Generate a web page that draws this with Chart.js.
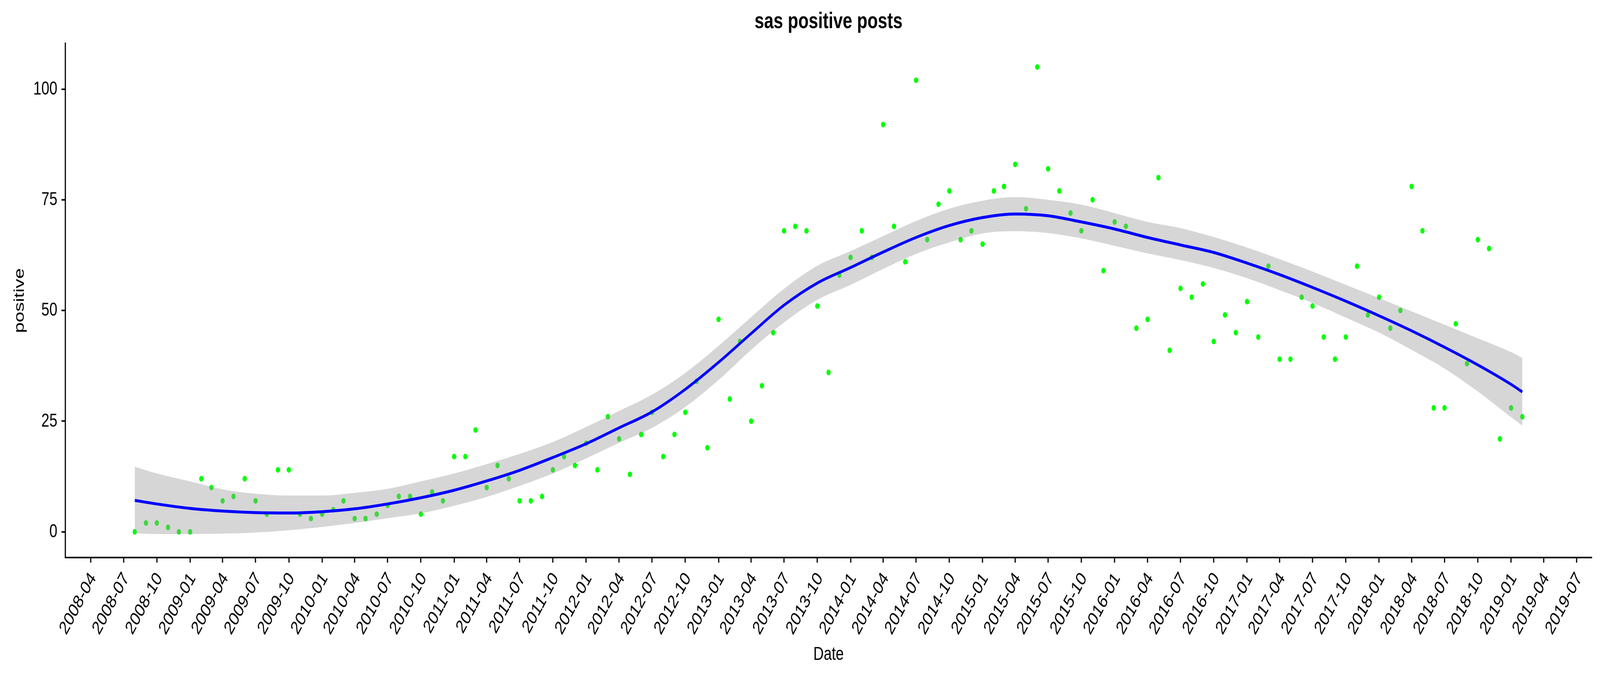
<!DOCTYPE html>
<html>
<head>
<meta charset="utf-8">
<title>sas positive posts</title>
<script src="https://cdn.jsdelivr.net/npm/chart.js@4"></script>
<style>
  html, body { margin: 0; padding: 0; background: #fff; overflow: hidden; }
  canvas { display: block; }
</style>
</head>
<body>
<canvas id="chart" width="5440" height="1743"></canvas>
<script>
"use strict";

var postDates = [
  "2008-08", "2008-09", "2008-10", "2008-11", "2008-12",
  "2009-01", "2009-02", "2009-03", "2009-04", "2009-05", "2009-06", "2009-07", "2009-08", "2009-09", "2009-10", "2009-11", "2009-12",
  "2010-01", "2010-02", "2010-03", "2010-04", "2010-05", "2010-06", "2010-07", "2010-08", "2010-09", "2010-10", "2010-11", "2010-12",
  "2011-01", "2011-02", "2011-03", "2011-04", "2011-05", "2011-06", "2011-07", "2011-08", "2011-09", "2011-10", "2011-11", "2011-12",
  "2012-01", "2012-02", "2012-03", "2012-04", "2012-05", "2012-06", "2012-07", "2012-08", "2012-09", "2012-10", "2012-11", "2012-12",
  "2013-01", "2013-02", "2013-03", "2013-04", "2013-05", "2013-06", "2013-07", "2013-08", "2013-09", "2013-10", "2013-11", "2013-12",
  "2014-01", "2014-02", "2014-03", "2014-04", "2014-05", "2014-06", "2014-07", "2014-08", "2014-09", "2014-10", "2014-11", "2014-12",
  "2015-01", "2015-02", "2015-03", "2015-04", "2015-05", "2015-06", "2015-07", "2015-08", "2015-09", "2015-10", "2015-11", "2015-12",
  "2016-01", "2016-02", "2016-03", "2016-04", "2016-05", "2016-06", "2016-07", "2016-08", "2016-09", "2016-10", "2016-11", "2016-12",
  "2017-01", "2017-02", "2017-03", "2017-04", "2017-05", "2017-06", "2017-07", "2017-08", "2017-09", "2017-10", "2017-11", "2017-12",
  "2018-01", "2018-02", "2018-03", "2018-04", "2018-05", "2018-06", "2018-07", "2018-08", "2018-09", "2018-10", "2018-11", "2018-12",
  "2019-01", "2019-02"
];

var postValues = [
  0, 2, 2, 1, 0,
  0, 12, 10, 7, 8, 12, 7, 4, 14, 14, 4, 3,
  4, 5, 7, 3, 3, 4, 6, 8, 8, 4, 9, 7,
  17, 17, 23, 10, 15, 12, 7, 7, 8, 14, 17, 15,
  20, 14, 26, 21, 13, 22, 27, 17, 22, 27, 34, 19,
  48, 30, 43, 25, 33, 45, 68, 69, 68, 51, 36, 58,
  62, 68, 62, 92, 69, 61, 102, 66, 74, 77, 66, 68,
  65, 77, 78, 83, 73, 105, 82, 77, 72, 68, 75, 59,
  70, 69, 46, 48, 80, 41, 55, 53, 56, 43, 49, 45,
  52, 44, 60, 39, 39, 53, 51, 44, 39, 44, 60, 49,
  53, 46, 50, 78, 68, 28, 28, 47, 38, 66, 64, 21,
  28, 26
];

var smoothDates = [
  "2008-08", "2008-10",
  "2009-01", "2009-04", "2009-07", "2009-10",
  "2010-01", "2010-04", "2010-07", "2010-10",
  "2011-01", "2011-04", "2011-07", "2011-10",
  "2012-01", "2012-04", "2012-07", "2012-10",
  "2013-01", "2013-04", "2013-07", "2013-10",
  "2014-01", "2014-04", "2014-07", "2014-10",
  "2015-01", "2015-04", "2015-07", "2015-10",
  "2016-01", "2016-04", "2016-07", "2016-10",
  "2017-01", "2017-04", "2017-07", "2017-10",
  "2018-01", "2018-04", "2018-07", "2018-10",
  "2019-01", "2019-02"
];

var smoothFit = [
  7.1, 6.3,
  5.3, 4.7, 4.35, 4.25,
  4.55, 5.2, 6.3, 7.7,
  9.4, 11.5, 13.9, 16.8,
  19.9, 23.5, 27.1, 32.2,
  38.3, 44.8, 51.2, 56.2,
  59.7, 63.2, 66.5, 69.2,
  71, 71.8, 71.4, 70,
  68.4, 66.5, 64.8, 63.1,
  60.7, 58.1, 55.2, 52.1,
  48.8, 45.4, 41.7, 37.7,
  33.3, 31.6
];

var smoothUpper = [
  14.7, 13.2,
  11.4, 9.6, 8.6, 8.2,
  8.2, 8.8, 9.7, 11.4,
  13.2, 15.3, 17.6, 20.3,
  23.7, 27.3, 31, 35.9,
  42, 48.5, 54.9, 60.1,
  63.4, 66.8, 70.2, 73,
  74.8, 75.6, 75, 73.9,
  72, 70, 68.6, 66.6,
  64.2, 61.6, 58.8, 55.8,
  52.8, 49.8, 46.8, 43.7,
  40.6, 39.3
];

var smoothLower = [
  -0.3, -0.5,
  -0.5, -0.4, -0.15, 0.35,
  1.1, 2, 3.1, 4.2,
  5.9, 7.9, 10.4, 13.2,
  16.6, 20.1, 23.5, 28.2,
  34.3, 41.1, 47.3, 52.4,
  55.8, 59.4, 62.8, 65.4,
  67.4, 67.9, 67.5, 66.3,
  64.6, 62.9, 61.4, 59.6,
  57.3, 54.6, 51.7, 48.4,
  45, 41.1, 36.9, 31.7,
  25.9, 24
];

var dateTicks = [
  "2008-04", "2008-07", "2008-10",
  "2009-01", "2009-04", "2009-07", "2009-10",
  "2010-01", "2010-04", "2010-07", "2010-10",
  "2011-01", "2011-04", "2011-07", "2011-10",
  "2012-01", "2012-04", "2012-07", "2012-10",
  "2013-01", "2013-04", "2013-07", "2013-10",
  "2014-01", "2014-04", "2014-07", "2014-10",
  "2015-01", "2015-04", "2015-07", "2015-10",
  "2016-01", "2016-04", "2016-07", "2016-10",
  "2017-01", "2017-04", "2017-07", "2017-10",
  "2018-01", "2018-04", "2018-07", "2018-10",
  "2019-01", "2019-04", "2019-07"
];

var positiveTicks = [0, 25, 50, 75, 100];

// "YYYY-MM" (optional "-DD") to days since epoch, the x axis is linear in days
function toDay(text) {
  var parts = text.split("-");
  return Date.UTC(+parts[0], +parts[1] - 1, parts[2] ? +parts[2] : 1) / 86400000;
}

function toPoints(dates, values) {
  return dates.map(function(date, i) {
    return { x: toDay(date), y: values[i] };
  });
}

var FONT = "'Liberation Sans', Arial, sans-serif";

var canvas = document.getElementById("chart");

new Chart(canvas, {
  type: "line",
  data: {
    datasets: [
      {
        label: "fit",
        data: toPoints(smoothDates, smoothFit),
        borderColor: "#0000ff",
        borderWidth: 7.5,
        pointRadius: 0,
        cubicInterpolationMode: "monotone",
        fill: false,
        order: 0
      },
      {
        label: "upper",
        data: toPoints(smoothDates, smoothUpper),
        borderWidth: 0,
        pointRadius: 0,
        cubicInterpolationMode: "monotone",
        backgroundColor: "rgba(153, 153, 153, 0.4)",
        fill: "+1",
        order: 1
      },
      {
        label: "lower",
        data: toPoints(smoothDates, smoothLower),
        borderWidth: 0,
        pointRadius: 0,
        cubicInterpolationMode: "monotone",
        fill: false,
        order: 2
      },
      {
        label: "positive",
        data: toPoints(postDates, postValues),
        showLine: false,
        pointRadius: 7.3,
        pointBorderWidth: 0,
        pointBackgroundColor: "#00ff00",
        order: 3
      }
    ]
  },
  options: {
    responsive: false,
    animation: false,
    devicePixelRatio: 1,
    layout: { padding: { left: 0, right: 28, top: 0, bottom: 0 } },
    plugins: {
      legend: { display: false },
      tooltip: { enabled: false },
      title: {
        display: true,
        text: "sas positive posts",
        fullSize: false,
        color: "#000",
        font: { family: FONT, size: 58, weight: "bold", lineHeight: 1.2 },
        padding: { top: 21, bottom: 20.8 }
      }
    },
    scales: {
      x: {
        type: "linear",
        min: toDay("2008-01-22"),
        max: toDay("2019-08-12"),
        afterBuildTicks: function(scale) {
          scale.ticks = dateTicks.map(function(d) { return { value: toDay(d) }; });
        },
        afterFit: function(scale) { scale.height = 316; },
        border: { display: true, color: "#000", width: 4 },
        grid: { display: true, drawOnChartArea: false, drawTicks: true, tickLength: 13, tickWidth: 4, tickColor: "#000" },
        ticks: {
          autoSkip: false,
          minRotation: 55,
          maxRotation: 55,
          labelOffset: 9,
          padding: 15,
          color: "#000",
          font: { family: FONT, size: 49 },
          callback: function(value, index) { return dateTicks[index]; }
        },
        title: {
          display: true,
          text: "Date",
          color: "#000",
          font: { family: FONT, size: 49, lineHeight: 1.2 },
          padding: { top: 0, bottom: 38 }
        }
      },
      y: {
        min: -5.8,
        max: 110.3,
        afterBuildTicks: function(scale) {
          scale.ticks = positiveTicks.map(function(v) { return { value: v }; });
        },
        afterFit: function(scale) { scale.width = 222; },
        border: { display: true, color: "#000", width: 4 },
        grid: { display: true, drawOnChartArea: false, drawTicks: true, tickLength: 13, tickWidth: 4, tickColor: "#000" },
        ticks: {
          padding: 14,
          color: "#000",
          font: { family: FONT, size: 49 }
        },
        title: {
          display: true,
          text: "positive",
          color: "#000",
          font: { family: FONT, size: 49, lineHeight: 1.2 },
          padding: { top: 38, bottom: 0 }
        }
      }
    }
  }
});

// the window can be narrower in css px than the 5440 device px, fit the finished bitmap to it
canvas.style.width = "100vw";
canvas.style.height = "100vh";
</script>
</body>
</html>
